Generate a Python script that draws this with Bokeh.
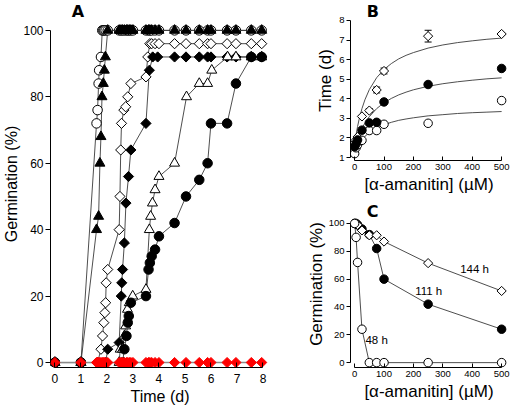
from bokeh.plotting import figure
from bokeh.layouts import row, column
from bokeh.models import Range1d, FixedTicker, ColumnDataSource, Whisker, TeeHead
from bokeh.embed import file_html
from bokeh.resources import INLINE
from bokeh.core.properties import value
import math

FONT = "Liberation Sans"
LETTER_FONT = "DejaVu Sans"

# ---------------- Panel A: germination time courses ----------------
t_open_circle = [0, 1, 1.6, 1.64, 1.68, 1.7, 1.77, 1.82, 1.86, 1.9, 1.95, 2.03, 2.47, 2.54, 2.6, 2.67, 2.75, 2.8,
                 2.86, 2.92, 3.0, 3.5, 3.6, 3.65, 3.72, 3.85, 4.0, 4.6, 5.04, 5.55, 5.87, 6.0, 6.62, 6.96, 7.55, 7.95]
g_open_circle = [0, 0, 72, 76, 84, 88, 92, 100, 100, 100, 100, 100, 100, 100, 100, 100, 100, 100,
                 100, 100, 100, 100, 100, 100, 100, 100, 100, 100, 100, 100, 100, 100, 100, 100, 100, 100]

t_filled_tri = [0, 1, 1.6, 1.68, 1.73, 1.77, 1.81, 1.86, 1.9, 1.94, 2.03, 2.47, 2.54, 2.6, 2.67, 2.75, 2.8, 2.86,
                2.92, 3.0, 3.5, 3.6, 3.65, 3.72, 3.85, 4.0, 4.6, 5.04, 5.55, 5.87, 6.0, 6.62, 6.96, 7.55, 7.95]
g_filled_tri = [0, 0, 40, 44, 60, 68, 80, 84, 88, 92, 100, 100, 100, 100, 100, 100, 100, 100,
                100, 100, 100, 100, 100, 100, 100, 100, 100, 100, 100, 100, 100, 100, 100, 100, 100]

t_open_diamond = [0, 1, 1.64, 1.77, 1.83, 1.88, 1.92, 1.95, 1.97, 2.03, 2.47, 2.5, 2.53, 2.56, 2.65, 2.72, 2.8,
                  2.92, 3.5, 3.57, 3.65, 3.72, 3.85, 4.0, 4.6, 5.04, 5.55, 5.87, 6.0, 6.62, 6.96, 7.55, 7.95]
g_open_diamond = [0, 0, 0, 4, 8, 12, 15, 18, 24, 28, 40, 50, 64, 72, 76, 77, 80,
                  84, 86, 92, 96, 96, 96, 96, 96, 96, 96, 96, 96, 96, 96, 96, 96]

t_filled_diamond = [0, 1, 1.95, 2.03, 2.47, 2.55, 2.57, 2.6, 2.67, 2.73, 2.83, 2.92, 3.5, 3.63, 3.76, 3.95,
                    4.6, 5.04, 5.55, 5.87, 6.0, 6.62, 6.96, 7.55, 7.95]
g_filled_diamond = [0, 0, 0, 4, 6, 20, 24, 28, 36, 48, 56, 64, 72, 88, 92, 92,
                    92, 92, 92, 92, 92, 92, 92, 92, 92]

t_open_tri = [0, 1, 2.47, 2.51, 2.6, 2.67, 2.72, 2.79, 2.86, 2.99, 3.5, 3.63, 3.68, 3.75, 3.85, 4.0,
              4.6, 5.06, 5.55, 5.87, 6.03, 6.64, 6.96, 7.55, 7.95]
g_open_tri = [0, 0, 0, 4, 4, 8, 11, 16, 18, 20, 22, 40, 44, 48, 52, 56,
              60, 80, 84, 84, 88, 92, 92, 92, 92]

t_filled_circle = [0, 1, 2.6, 2.67, 2.75, 2.8, 2.84, 2.92, 3.5, 3.6, 3.65, 3.72, 3.85, 4.0, 4.6, 5.04,
                   5.55, 5.87, 6.0, 6.62, 6.96, 7.55, 7.95]
g_filled_circle = [0, 0, 0, 4, 8, 12, 14, 18, 20, 28, 30, 32, 34, 38, 42, 50,
                   55, 60, 72, 72, 84, 92, 92]

t_red = [0, 1, 1.6, 1.64, 1.68, 1.72, 1.77, 1.82, 1.86, 1.9, 1.95, 2.03, 2.47, 2.54, 2.6, 2.67, 2.75, 2.8,
         2.86, 2.92, 3.0, 3.5, 3.6, 3.65, 3.72, 3.85, 4.0, 4.6, 5.04, 5.55, 5.87, 6.0, 6.62, 6.96, 7.55, 7.95]
g_red = [0, 0, 0, 0, 0, 0, 0, 0, 0, 0, 0, 0, 0, 0, 0, 0, 0, 0,
         0, 0, 0, 0, 0, 0, 0, 0, 0, 0, 0, 0, 0, 0, 0, 0, 0, 0]

ticks_A_x = [0, 1, 2, 3, 4, 5, 6, 7, 8]
ticks_A_y = [0, 20, 40, 60, 80, 100]

# ---------------- Panel B: time vs alpha-amanitin ----------------
conc_B = [0, 5, 10, 25, 50, 75, 100, 250, 500]
time_diamond_B = [1.75, 1.9, 2.05, 3.1, 3.4, 4.45, 5.42, 7.2, 7.31]
err_diamond_B = [0.05, 0.05, 0.05, 0.05, 0.1, 0.15, 0.15, 0.3, 0.05]
time_fcircle_B = [1.55, 1.7, 1.9, 2.4, 2.77, 2.8, 3.84, 4.73, 5.55]
time_ocircle_B = [1.2, 1.5, 1.65, 1.88, 2.38, 2.38, 2.7, 2.75, 3.91]

conc_fit = [0, 5, 10, 15, 25, 35, 50, 75, 100, 125, 150, 175, 200, 250, 300, 350, 400, 450, 500]
fit_diamond_B = [1.70, 2.17, 2.58, 2.93, 3.50, 3.95, 4.47, 5.08, 5.50, 5.80, 6.04, 6.22, 6.36, 6.59, 6.75, 6.87,
                 6.96, 7.04, 7.10]
fit_fcircle_B = [1.50, 1.74, 1.96, 2.15, 2.49, 2.76, 3.09, 3.50, 3.80, 4.02, 4.20, 4.34, 4.46, 4.64, 4.77, 4.87,
                 4.95, 5.02, 5.07]
fit_ocircle_B = [1.30, 1.46, 1.59, 1.72, 1.92, 2.08, 2.28, 2.51, 2.68, 2.80, 2.90, 2.97, 3.03, 3.13, 3.19, 3.25,
                 3.29, 3.32, 3.35]

ticks_B_x = [0, 100, 200, 300, 400, 500]
ticks_B_y = [1, 2, 3, 4, 5, 6, 7, 8]

# ---------------- Panel C: germination vs alpha-amanitin ----------------
conc_C = [0, 5, 10, 25, 50, 75, 100, 250, 500]
germ_48h = [100, 90, 72, 24, 0, 0, 0, 0, 0]
germ_111h = [100, 100, 99, 96, 92, 82, 60, 42, 24]
germ_144h = [100, 100, 99, 95, 91.5, 91.5, 87, 71.5, 51.5]
curve_labels_C = ["144 h", "111 h", "48 h"]
curve_label_x_C = [408, 252, 75]
curve_label_y_C = [67.5, 51.4, 16.5]

ticks_C_x = [0, 100, 200, 300, 400, 500]
ticks_C_y = [0, 20, 40, 60, 80, 100]

panel_letters = ["A", "B", "C"]
panel_letter_x = [0.65, 41, 41]
panel_letter_y = [105.7, 8.46, 108.6]

LINE = "#3a3a3a"
DIAMOND_ANGLE = math.pi / 4


def base_fig(width, height, xr, yr, mbl, mbr, mbb):
    p = figure(width=width, height=height, x_range=Range1d(*xr), y_range=Range1d(*yr),
               output_backend="svg", toolbar_location=None,
               min_border_left=mbl, min_border_right=mbr, min_border_top=0, min_border_bottom=mbb)
    p.outline_line_color = None
    p.xgrid.grid_line_color = None
    p.ygrid.grid_line_color = None
    p.background_fill_color = "white"
    p.border_fill_color = "white"
    for ax in (p.xaxis[0], p.yaxis[0]):
        ax.axis_line_color = "black"
        ax.axis_line_width = 1
        ax.major_tick_line_color = "black"
        ax.minor_tick_line_color = None
        ax.major_label_text_font = FONT
        ax.major_label_text_color = "black"
        ax.axis_label_text_font = FONT
        ax.axis_label_text_font_style = "normal"
        ax.axis_label_text_color = "black"
    return p


def mark(p, x, y, marker, size, fill, line="black", angle=0.0):
    p.scatter(x, y, marker=marker, size=size, fill_color=fill, line_color=line, line_width=1, angle=angle)


# ---- Figure A ----
pA = base_fig(303, 409, (-0.17, 8.25), (-1.5, 109), 50, 34, 42)
pA.xaxis.ticker = FixedTicker(ticks=ticks_A_x)
pA.yaxis.ticker = FixedTicker(ticks=ticks_A_y)
pA.xaxis.bounds = (0, 8)
pA.yaxis.bounds = (0, 100)
pA.xaxis.major_tick_in = 5
pA.xaxis.major_tick_out = 0
pA.yaxis.major_tick_in = 0
pA.yaxis.major_tick_out = 5
pA.xaxis.major_label_text_font_size = "12px"
pA.yaxis.major_label_text_font_size = "12px"
pA.xaxis.major_label_standoff = 6
pA.yaxis.major_label_standoff = 2
pA.xaxis.axis_label = "Time (d)"
pA.yaxis.axis_label = "Germination (%)"
pA.xaxis.axis_label_text_font_size = "16px"
pA.yaxis.axis_label_text_font_size = "16px"
pA.xaxis.axis_label_standoff = 2
pA.yaxis.axis_label_standoff = 0

series_A = [
    (t_open_circle, g_open_circle, "circle", 9.5, "white", 0.0),
    (t_filled_tri, g_filled_tri, "triangle", 10, "black", 0.0),
    (t_open_diamond, g_open_diamond, "square", 7.2, "white", DIAMOND_ANGLE),
    (t_filled_diamond, g_filled_diamond, "square", 7.2, "black", DIAMOND_ANGLE),
    (t_open_tri, g_open_tri, "triangle", 10, "white", 0.0),
    (t_filled_circle, g_filled_circle, "circle", 9.5, "black", 0.0),
]
for xs, ys, mk, sz, fill, ang in series_A:
    pA.line(xs, ys, line_color=LINE, line_width=0.9)
for xs, ys, mk, sz, fill, ang in series_A:
    mark(pA, xs, ys, mk, sz, fill, angle=ang)
pA.line(t_red, g_red, line_color="#8a8a8a", line_width=1.5)
mark(pA, t_red, g_red, "square", 7.2, "#ff0000", line="#ff0000", angle=DIAMOND_ANGLE)

# ---- Figure B ----
pB = base_fig(208, 200, (-14, 520), (0.85, 9.02), 42, 4, 40)
pB.xaxis.ticker = FixedTicker(ticks=ticks_B_x)
pB.yaxis.ticker = FixedTicker(ticks=ticks_B_y)
pB.xaxis.bounds = (0, 500)
pB.yaxis.bounds = (1, 8)
pB.xaxis.major_tick_in = 4
pB.xaxis.major_tick_out = 0
pB.yaxis.major_tick_in = 0
pB.yaxis.major_tick_out = 4
pB.xaxis.major_label_text_font_size = "9.5px"
pB.yaxis.major_label_text_font_size = "9.5px"
pB.xaxis.major_label_standoff = 3
pB.yaxis.major_label_standoff = 2
pB.xaxis.axis_label = "[α-amanitin] (µM)"
pB.yaxis.axis_label = "Time (d)"
pB.xaxis.axis_label_text_font_size = "17px"
pB.yaxis.axis_label_text_font_size = "17px"
pB.xaxis.axis_label_standoff = 2
pB.yaxis.axis_label_standoff = 1

pB.line(conc_fit, fit_diamond_B, line_color=LINE, line_width=0.9)
pB.line(conc_fit, fit_fcircle_B, line_color=LINE, line_width=0.9)
pB.line(conc_fit, fit_ocircle_B, line_color=LINE, line_width=0.9)
err_src = ColumnDataSource(dict(
    x=conc_B,
    upper=[v + e for v, e in zip(time_diamond_B, err_diamond_B)],
    lower=[v - e for v, e in zip(time_diamond_B, err_diamond_B)],
))
pB.add_layout(Whisker(source=err_src, base="x", upper="upper", lower="lower", dimension="height",
                      line_color="black", line_width=1,
                      upper_head=TeeHead(size=7, line_color="black", line_width=1),
                      lower_head=TeeHead(size=7, line_color="black", line_width=1)))
mark(pB, conc_B, time_diamond_B, "square", 6.5, "white", angle=DIAMOND_ANGLE)
mark(pB, conc_B, time_ocircle_B, "circle", 8.5, "white")
mark(pB, conc_B, time_fcircle_B, "circle", 8.5, "black")

# ---- Figure C ----
pC = base_fig(208, 209, (-14, 520), (-3.5, 116.5), 42, 4, 42)
pC.xaxis.ticker = FixedTicker(ticks=ticks_C_x)
pC.yaxis.ticker = FixedTicker(ticks=ticks_C_y)
pC.xaxis.bounds = (0, 500)
pC.yaxis.bounds = (0, 100)
pC.xaxis.major_tick_in = 4
pC.xaxis.major_tick_out = 0
pC.yaxis.major_tick_in = 0
pC.yaxis.major_tick_out = 4
pC.xaxis.major_label_text_font_size = "9.5px"
pC.yaxis.major_label_text_font_size = "9.5px"
pC.xaxis.major_label_standoff = 3
pC.yaxis.major_label_standoff = 2
pC.xaxis.axis_label = "[α-amanitin] (µM)"
pC.yaxis.axis_label = "Germination (%)"
pC.xaxis.axis_label_text_font_size = "17px"
pC.yaxis.axis_label_text_font_size = "17px"
pC.xaxis.axis_label_standoff = 2
pC.yaxis.axis_label_standoff = 0

pC.line(conc_C, germ_144h, line_color=LINE, line_width=0.9)
pC.line(conc_C, germ_111h, line_color=LINE, line_width=0.9)
pC.line(conc_C, germ_48h, line_color=LINE, line_width=0.9)
mark(pC, conc_C, germ_111h, "circle", 8.5, "black")
mark(pC, conc_C, germ_144h, "square", 6.5, "white", angle=DIAMOND_ANGLE)
mark(pC, conc_C, germ_48h, "circle", 8.5, "white")
pC.text(x=curve_label_x_C, y=curve_label_y_C, text=curve_labels_C, text_font=value(FONT),
        text_font_size=value("11.5px"), text_align="center", text_baseline="middle", text_color="black")

# ---- panel letters ----
for p, i in ((pA, 0), (pB, 1), (pC, 2)):
    p.text(x=[panel_letter_x[i]], y=[panel_letter_y[i]], text=[panel_letters[i]], text_font=value(LETTER_FONT),
           text_font_style="bold", text_font_size=value("16px"), text_align="left",
           text_baseline="middle", text_color="black")

layout = row(pA, column(pB, pC))
open("out.html", "w").write(file_html(layout, INLINE))
